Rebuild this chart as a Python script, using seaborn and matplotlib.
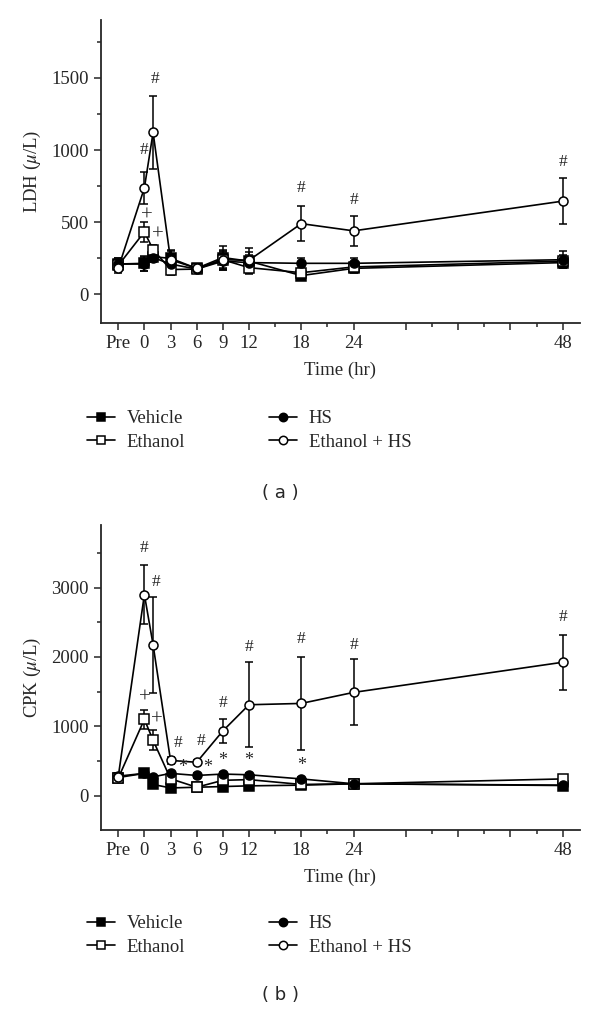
import numpy as np
import pandas as pd
import matplotlib
matplotlib.use("Agg")
import matplotlib.pyplot as plt
from matplotlib.ticker import FixedLocator
from matplotlib.lines import Line2D
import seaborn as sns

sns.set_style("ticks")
plt.rcParams['font.family'] = ['Liberation Serif', 'DejaVu Serif']
plt.rcParams['mathtext.fontset'] = 'stix'

# time points (Pre plotted at -3 hr)
times = [-3, 0, 1, 3, 6, 9, 12, 18, 24, 48]
tick_pos = [-3, 0, 3, 6, 9, 12, 18, 24, 30, 36, 42, 48]
tick_labels = ["Pre", "0", "3", "6", "9", "12", "18", "24", "", "", "", "48"]
minor_pos = [15, 21, 33, 39, 45]
groups = ["Vehicle", "Ethanol", "HS", "Ethanol + HS"]

# LDH (u/L)
ldh_vehicle = [210, 215, 260, 250, 180, 255, 230, 130, 180, 220]
ldh_vehicle_err = [40, 50, 30, 60, 30, 80, 90, 30, 30, 40]
ldh_ethanol = [200, 433, 310, 172, 175, 240, 185, 150, 190, 230]
ldh_ethanol_err = [40, 70, 35, 40, 30, 60, 40, 30, 30, 40]
ldh_hs = [210, 210, 255, 210, 175, 230, 220, 215, 215, 240]
ldh_hs_err = [40, 50, 30, 50, 30, 60, 50, 40, 40, 60]
ldh_ethhs = [180, 738, 1122, 240, 180, 240, 236, 490, 440, 646]
ldh_ethhs_err = [30, 110, 255, 60, 30, 70, 60, 120, 105, 160]

# CPK (u/L)
cpk_vehicle = [260, 320, 160, 110, 120, 130, 140, 150, 170, 145]
cpk_vehicle_err = [40, 40, 30, 20, 20, 20, 20, 20, 20, 20]
cpk_ethanol = [250, 1100, 797, 242, 120, 220, 230, 160, 170, 240]
cpk_ethanol_err = [40, 140, 145, 40, 20, 30, 30, 20, 20, 30]
cpk_hs = [280, 320, 270, 320, 290, 310, 300, 240, 170, 150]
cpk_hs_err = [40, 40, 30, 30, 30, 30, 30, 30, 20, 20]
cpk_ethhs = [270, 2900, 2174, 507, 480, 932, 1310, 1329, 1488, 1923]
cpk_ethhs_err = [50, 430, 690, 50, 30, 170, 615, 665, 475, 395]

# significance annotations: (time, value, symbol)
ldh_marks = [(0, 1000, "#"), (1.2, 1490, "#"), (0.3, 540, "+"), (1.6, 410, "+"),
             (18, 740, "#"), (24, 655, "#"), (48, 915, "#")]
cpk_marks = [(0, 3575, "#"), (1.3, 3080, "#"), (0, 1410, "+"), (1.4, 1090, "+"),
             (3.9, 760, "#"), (6.5, 790, "#"), (4.4, 400, "*"), (7.2, 400, "*"),
             (9, 1335, "#"), (9, 500, "*"), (12, 2150, "#"), (12, 500, "*"),
             (18, 2265, "#"), (18, 430, "*"), (24, 2175, "#"), (48, 2580, "#")]
mark_sizes = {"#": 12.5, "+": 15, "*": 13}

styles = {
    "Vehicle": dict(marker="s", mfc="black"),
    "Ethanol": dict(marker="s", mfc="white"),
    "HS": dict(marker="o", mfc="black"),
    "Ethanol + HS": dict(marker="o", mfc="white"),
}

fig = plt.figure(figsize=(6, 10.1), dpi=100)
ax1 = fig.add_axes([0.168, 0.680, 0.799, 0.300])
ax2 = fig.add_axes([0.168, 0.178, 0.799, 0.302])

FS = 13.5

def draw(ax, series, errs, marks, ylim, yticks, yminor, ylabel):
    for g, vals, err in zip(groups, series, errs):
        df = pd.DataFrame({"time": times, "value": vals})
        st = styles[g]
        ax.errorbar(df["time"], df["value"], yerr=err, fmt="none", ecolor="black",
                    elinewidth=1.1, capsize=3, capthick=1.1, zorder=2)
        sns.lineplot(data=df, x="time", y="value", ax=ax, color="black", lw=1.2,
                     marker=st["marker"], markersize=6.5, markerfacecolor=st["mfc"],
                     markeredgecolor="black", markeredgewidth=1.1, zorder=3)
    for t, v, s in marks:
        ax.text(t, v, s, ha="center", va="center", fontsize=mark_sizes[s])
    ax.set_xlim(-5, 50)
    ax.set_ylim(*ylim)
    ax.xaxis.set_major_locator(FixedLocator(tick_pos))
    ax.set_xticklabels(tick_labels)
    ax.xaxis.set_minor_locator(FixedLocator(minor_pos))
    ax.yaxis.set_major_locator(FixedLocator(yticks))
    ax.yaxis.set_minor_locator(FixedLocator(yminor))
    ax.tick_params(axis="both", which="major", labelsize=FS, length=5, width=1.1, direction="out")
    ax.tick_params(axis="both", which="minor", length=3, width=1.1, direction="out")
    for sp in ["top", "right"]:
        ax.spines[sp].set_visible(False)
    for sp in ["left", "bottom"]:
        ax.spines[sp].set_linewidth(1.3)
    ax.set_xlabel("Time (hr)", fontsize=FS, labelpad=7)
    ax.set_ylabel(ylabel, fontsize=FS, labelpad=6)

draw(ax1, [ldh_vehicle, ldh_ethanol, ldh_hs, ldh_ethhs],
     [ldh_vehicle_err, ldh_ethanol_err, ldh_hs_err, ldh_ethhs_err],
     ldh_marks, (-200, 1900), [0, 500, 1000, 1500], [250, 750, 1250, 1750],
     r"LDH ($\mu$/L)")
draw(ax2, [cpk_vehicle, cpk_ethanol, cpk_hs, cpk_ethhs],
     [cpk_vehicle_err, cpk_ethanol_err, cpk_hs_err, cpk_ethhs_err],
     cpk_marks, (-500, 3900), [0, 1000, 2000, 3000], [500, 1500, 2500, 3500],
     r"CPK ($\mu$/L)")

handles = [Line2D([], [], color="black", lw=1.2, marker=styles[g]["marker"], markersize=6,
                  markerfacecolor=styles[g]["mfc"], markeredgecolor="black",
                  markeredgewidth=1.1) for g in groups]

for y0 in [1 - 410 / 1010, 1 - 915 / 1010]:
    fig.legend(handles, groups, loc="upper left", bbox_to_anchor=(0.145, y0), ncol=2,
               frameon=False, fontsize=FS, handlelength=1.5, handletextpad=0.6,
               columnspacing=4.5, labelspacing=0.35, borderaxespad=0, borderpad=0)

fig.text(0.467, 1 - 493 / 1010, "( a )", ha="center", va="center", fontsize=13,
         family="DejaVu Sans")
fig.text(0.467, 1 - 995 / 1010, "( b )", ha="center", va="center", fontsize=13,
         family="DejaVu Sans")

fig.savefig("out.png", dpi=100)
